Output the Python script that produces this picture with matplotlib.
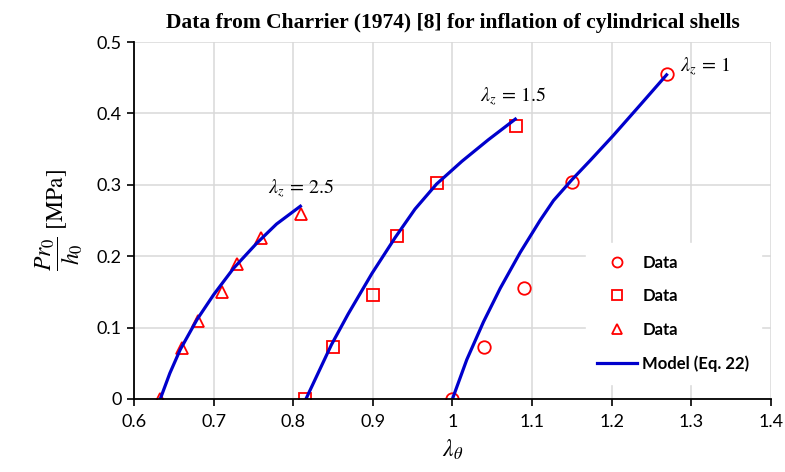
import matplotlib.pyplot as plt

plt.rcParams["mathtext.fontset"] = "stix"
plt.rcParams["font.family"] = ["Lato", "DejaVu Sans"]

# Charrier (1974) measurements, one array pair per axial stretch
lam_z1_x = [1.00, 1.04, 1.09, 1.15, 1.27]
lam_z1_p = [0.0, 0.073, 0.156, 0.304, 0.455]

lam_z15_x = [0.815, 0.85, 0.90, 0.93, 0.98, 1.08]
lam_z15_p = [0.0, 0.073, 0.145, 0.228, 0.303, 0.383]

lam_z25_x = [0.633, 0.66, 0.68, 0.71, 0.73, 0.76, 0.81]
lam_z25_p = [0.0, 0.072, 0.109, 0.150, 0.189, 0.226, 0.259]

# Model (Eq. 22) curves
model_z1_x = [1.000, 1.018, 1.039, 1.060, 1.085, 1.110, 1.127, 1.150, 1.173, 1.202, 1.236, 1.269]
model_z1_p = [0.000, 0.055, 0.108, 0.155, 0.205, 0.250, 0.278, 0.307, 0.334, 0.369, 0.412, 0.454]

model_z15_x = [0.816, 0.832, 0.848, 0.869, 0.899, 0.928, 0.953, 0.980, 1.012, 1.045, 1.079]
model_z15_p = [0.000, 0.038, 0.076, 0.119, 0.176, 0.226, 0.266, 0.301, 0.333, 0.363, 0.392]

model_z25_x = [0.633, 0.645, 0.658, 0.679, 0.700, 0.725, 0.754, 0.779, 0.809]
model_z25_p = [0.000, 0.036, 0.069, 0.111, 0.146, 0.183, 0.218, 0.245, 0.270]

x_ticks = [0.6, 0.7, 0.8, 0.9, 1.0, 1.1, 1.2, 1.3, 1.4]
x_tick_labels = ["0.6", "0.7", "0.8", "0.9", "1", "1.1", "1.2", "1.3", "1.4"]
y_ticks = [0, 0.1, 0.2, 0.3, 0.4, 0.5]
y_tick_labels = ["0", "0.1", "0.2", "0.3", "0.4", "0.5"]

RED = "#ff0000"
BLUE = "#0000cc"

fig = plt.figure(figsize=(7.85, 4.72), dpi=100)
ax = fig.add_axes([0.1707, 0.1547, 0.8113, 0.7563])

mk = dict(linestyle="none", markerfacecolor="none", markeredgecolor=RED,
          markeredgewidth=1.3, markersize=9, zorder=3)
ax.plot(lam_z1_x, lam_z1_p, marker="o", label="Data", **mk)
ax.plot(lam_z15_x, lam_z15_p, marker="s", label="Data", **mk)
ax.plot(lam_z25_x, lam_z25_p, marker="^", label="Data", **mk)

ax.plot(model_z1_x, model_z1_p, color=BLUE, lw=2.3, zorder=4, label="Model (Eq. 22)")
ax.plot(model_z15_x, model_z15_p, color=BLUE, lw=2.3, zorder=4)
ax.plot(model_z25_x, model_z25_p, color=BLUE, lw=2.3, zorder=4)

ax.text(0.768, 0.295, r"$\lambda_z\,=\,2.5$", fontsize=14.5, va="center")
ax.text(1.035, 0.423, r"$\lambda_z\,=\,1.5$", fontsize=14.5, va="center")
ax.text(1.286, 0.465, r"$\lambda_z\,=\,1$", fontsize=14.5, va="center")

ax.set_xlim(0.6, 1.4)
ax.set_ylim(0, 0.5)
ax.set_xticks(x_ticks)
ax.set_xticklabels(x_tick_labels)
ax.set_yticks(y_ticks)
ax.set_yticklabels(y_tick_labels)
ax.tick_params(direction="out", length=5, width=1.2, labelsize=13, pad=6)
ax.tick_params(axis="y", pad=4)

ax.grid(True, color="#d9d9d9", lw=1.1)
ax.set_axisbelow(True)
for side in ("top", "right"):
    ax.spines[side].set_visible(False)
for side in ("left", "bottom"):
    ax.spines[side].set_linewidth(1.3)
    ax.spines[side].set_zorder(5)

ax.set_xlabel(r"$\lambda_\theta$", fontsize=17, labelpad=5)
ax.set_ylabel(r"$\dfrac{Pr_0}{h_0}\ \mathrm{[MPa]}$", fontsize=17, labelpad=8)

ax.set_title("Data from Charrier (1974) [8] for inflation of cylindrical shells",
             fontsize=15.5, fontweight="bold", family="Liberation Serif", pad=10)

leg = ax.legend(loc="lower right", bbox_to_anchor=(0.998, 0.02), frameon=True,
                prop={"weight": "bold", "size": 12}, handlelength=2.4,
                handletextpad=0.3, markerscale=0.8, labelspacing=1.05,
                borderpad=0.7, fancybox=False)
leg.get_frame().set_edgecolor("white")
leg.get_frame().set_alpha(1.0)

fig.savefig("out.png", dpi=100)
